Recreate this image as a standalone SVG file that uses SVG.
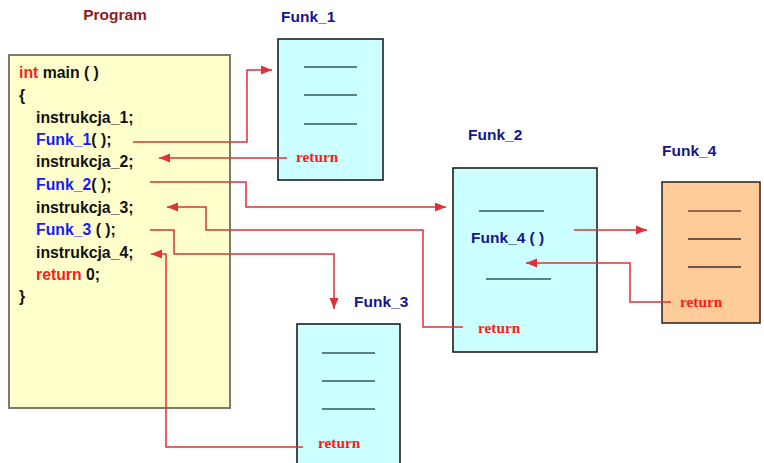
<svg xmlns="http://www.w3.org/2000/svg" width="764" height="463" viewBox="0 0 764 463">
<defs>
<marker id="ah" markerUnits="userSpaceOnUse" markerWidth="12" markerHeight="10" refX="11" refY="4.5" orient="auto">
<path d="M0,0 L11,4.5 L0,9 z" fill="#E0303A"/>
</marker>
<style>
.code{font-family:"Liberation Sans",Arial,sans-serif;font-weight:bold;font-size:15.8px;fill:#111}
.kw{fill:#FF1A1A}
.fn{fill:#1A1AFF}
.ttl{font-family:"Liberation Sans",Arial,sans-serif;font-weight:bold;font-size:15.5px;fill:#15158F}
.ret{font-family:"Liberation Serif","Times New Roman",serif;font-weight:bold;font-size:15.3px;fill:#FF1A1A}
.box{fill:#CCFFFF;stroke:#111;stroke-width:1.5}
.ln{stroke:#3A5858;stroke-width:1.5}
.conn{fill:none;stroke:#E0303A;stroke-width:1.5}
</style>
</defs>
<rect width="764" height="463" fill="#fff"/>
<g id="program">
<text x="115" y="20" text-anchor="middle" class="ttl" style="fill:#8B1E1E">Program</text>
<rect x="9" y="55" width="221" height="353" fill="#FFFFCC" stroke="#7A7A70" stroke-width="2"/>
<text class="code" x="19" y="78"><tspan class="kw">int</tspan> main ( )</text>
<text class="code" x="19" y="101">{</text>
<text class="code" x="36" y="123">instrukcja_1;</text>
<text class="code" x="36" y="145"><tspan class="fn">Funk_1</tspan>( );</text>
<text class="code" x="36" y="167">instrukcja_2;</text>
<text class="code" x="36" y="190"><tspan class="fn">Funk_2</tspan>( );</text>
<text class="code" x="36" y="213">instrukcja_3;</text>
<text class="code" x="36" y="235"><tspan class="fn">Funk_3</tspan> ( );</text>
<text class="code" x="36" y="258">instrukcja_4;</text>
<text class="code" x="36" y="280"><tspan class="kw">return</tspan> 0;</text>
<text class="code" x="19" y="302">}</text>
</g>
<g id="funk1">
<text x="281" y="22" class="ttl">Funk_1</text>
<rect x="278" y="39" width="105" height="141" class="box"/>
<line x1="304" y1="67" x2="357" y2="67" class="ln"/>
<line x1="304" y1="95" x2="357" y2="95" class="ln"/>
<line x1="304" y1="124" x2="357" y2="124" class="ln"/>
<text x="296" y="162" class="ret">return</text>
</g>
<g id="funk2">
<text x="468" y="140" class="ttl">Funk_2</text>
<rect x="453" y="168" width="144" height="184" class="box"/>
<line x1="479" y1="211" x2="544" y2="211" class="ln"/>
<text x="471" y="243" class="ttl">Funk_4 ( )</text>
<line x1="486" y1="279" x2="551" y2="279" class="ln"/>
<text x="478" y="333" class="ret">return</text>
</g>
<g id="funk3">
<text x="354" y="307" class="ttl">Funk_3</text>
<rect x="297" y="324" width="103" height="150" class="box"/>
<line x1="322" y1="353" x2="375" y2="353" class="ln"/>
<line x1="322" y1="381" x2="375" y2="381" class="ln"/>
<line x1="322" y1="409" x2="375" y2="409" class="ln"/>
<text x="318" y="448" class="ret">return</text>
</g>
<g id="funk4">
<text x="662" y="156" class="ttl">Funk_4</text>
<rect x="662" y="182" width="98" height="141" fill="#FFCC99" stroke="#222" stroke-width="1.5"/>
<line x1="688" y1="211" x2="741" y2="211" class="ln" style="stroke:#6B4A30"/>
<line x1="688" y1="239" x2="741" y2="239" class="ln" style="stroke:#3A3030"/>
<line x1="688" y1="267" x2="741" y2="267" class="ln" style="stroke:#3A3030"/>
<text x="680" y="307" class="ret">return</text>
</g>
<g id="connectors">
<path class="conn" d="M133,142 H247 V70 H272" marker-end="url(#ah)"/>
<path class="conn" d="M287,158 H159" marker-end="url(#ah)"/>
<path class="conn" d="M150,182 H246 V207 H446" marker-end="url(#ah)"/>
<path class="conn" d="M463,327 H423 V230 H206 V207 H167" marker-end="url(#ah)"/>
<path class="conn" d="M150,230 H174 V254 H334 V309" marker-end="url(#ah)"/>
<path class="conn" d="M303,447 H166 V254 H151" marker-end="url(#ah)"/>
<path class="conn" d="M574,230 H647" marker-end="url(#ah)"/>
<path class="conn" d="M671,302 H630 V263 H526" marker-end="url(#ah)"/>
</g>
</svg>
